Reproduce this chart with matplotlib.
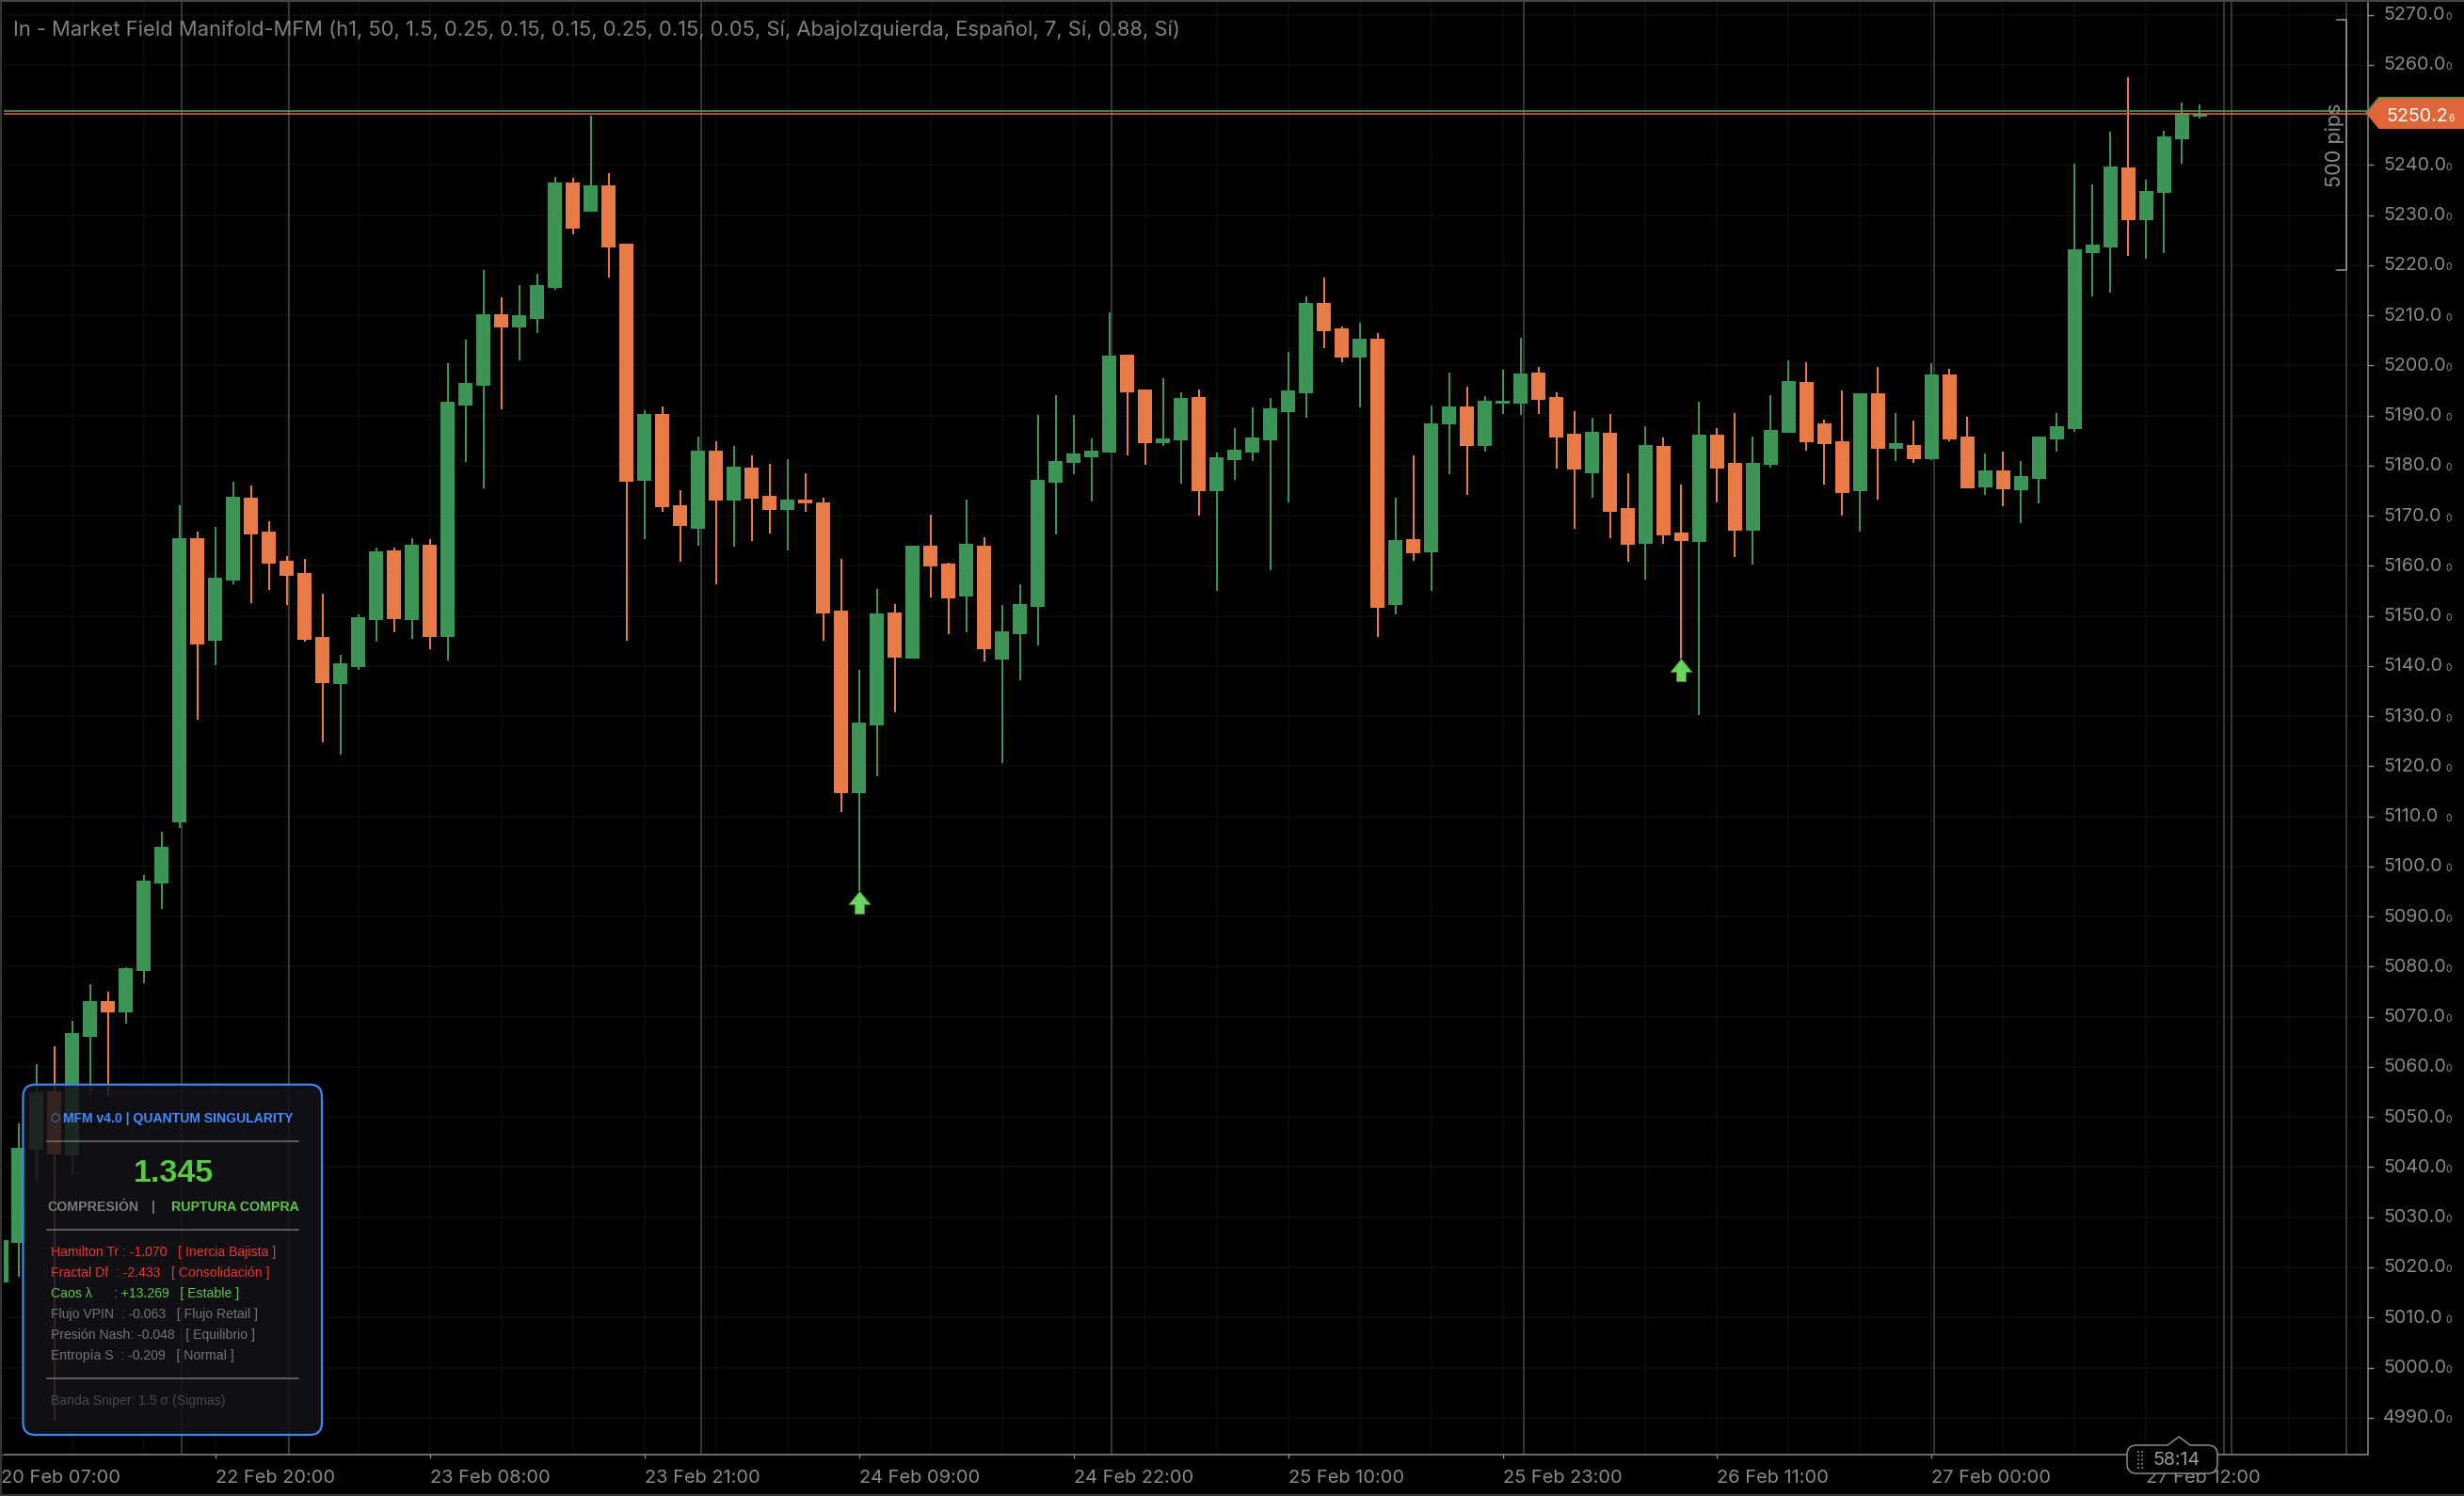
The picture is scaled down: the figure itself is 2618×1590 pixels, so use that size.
import numpy as np
import matplotlib
matplotlib.use('Agg')
import matplotlib.pyplot as plt
from matplotlib.lines import Line2D
from matplotlib.patches import FancyBboxPatch, PathPatch, Polygon, Rectangle
from matplotlib.path import Path
from matplotlib.transforms import Affine2D

W, H = 2618, 1590

opens = [5017.0, 5024.9, 5043.5, 5055.1, 5042.4, 5066.1, 5073.1, 5070.8, 5079.2, 5096.7,
         5108.8, 5165.5, 5145.1, 5157.1, 5173.6, 5166.9, 5161.0, 5158.6, 5145.8, 5136.4,
         5139.8, 5149.2, 5163.1, 5149.2, 5164.2, 5145.8, 5192.0, 5196.0, 5210.2, 5207.6,
         5209.3, 5215.5, 5236.5, 5230.7, 5235.9, 5224.3, 5177.0, 5190.3, 5172.1, 5167.4,
         5183.0, 5173.0, 5179.6, 5174.0, 5171.2, 5173.2, 5172.7, 5151.1, 5114.6, 5128.2,
         5150.7, 5141.5, 5164.0, 5160.5, 5153.9, 5164.0, 5141.3, 5146.4, 5151.8, 5176.6,
         5180.6, 5181.7, 5182.6, 5202.1, 5195.2, 5184.5, 5185.1, 5193.7, 5174.9, 5181.1,
         5182.6, 5185.1, 5190.7, 5194.4, 5212.5, 5207.4, 5201.6, 5205.3, 5152.2, 5165.3,
         5162.7, 5188.2, 5191.8, 5183.9, 5192.4, 5192.4, 5198.6, 5193.7, 5186.4, 5178.5,
         5186.6, 5171.5, 5164.4, 5183.9, 5166.7, 5164.8, 5186.2, 5180.6, 5167.0, 5180.2,
         5186.6, 5196.7, 5188.5, 5184.9, 5174.9, 5194.4, 5183.4, 5184.1, 5181.3, 5198.2,
         5185.8, 5175.7, 5179.1, 5175.1, 5177.4, 5185.2, 5187.3, 5222.4, 5223.6, 5239.5,
         5229.0, 5234.4, 5245.2, 5249.6]
closes = [5025.4, 5043.8, 5054.9, 5042.6, 5066.7, 5073.1, 5070.8, 5079.7, 5097.2, 5103.9,
          5165.5, 5144.3, 5157.6, 5173.8, 5166.3, 5160.5, 5158.0, 5145.2, 5136.6, 5140.6,
          5149.8, 5162.9, 5149.4, 5164.2, 5145.8, 5192.8, 5196.5, 5210.2, 5207.6, 5210.0,
          5216.0, 5236.5, 5227.3, 5235.9, 5223.6, 5176.8, 5190.3, 5171.7, 5168.0, 5183.0,
          5173.0, 5179.8, 5173.4, 5171.2, 5173.2, 5172.5, 5150.5, 5114.6, 5128.7, 5150.5,
          5141.7, 5164.0, 5159.9, 5153.5, 5164.4, 5143.4, 5146.9, 5152.4, 5177.2, 5180.9,
          5182.4, 5183.0, 5202.0, 5194.6, 5184.5, 5185.4, 5193.5, 5174.9, 5181.7, 5183.2,
          5185.6, 5191.4, 5195.0, 5212.5, 5206.8, 5201.6, 5205.3, 5151.6, 5165.2, 5162.5,
          5188.5, 5191.8, 5183.9, 5193.0, 5193.0, 5198.4, 5193.1, 5185.6, 5179.2, 5186.8,
          5170.8, 5164.2, 5184.1, 5166.1, 5165.0, 5186.2, 5179.4, 5167.0, 5180.6, 5187.1,
          5196.9, 5184.7, 5184.3, 5174.5, 5194.4, 5183.4, 5184.5, 5181.3, 5198.2, 5185.2,
          5175.5, 5179.1, 5175.3, 5177.9, 5185.8, 5187.9, 5223.2, 5224.1, 5239.7, 5229.0,
          5234.8, 5245.7, 5250.4, 5250.2]
highs = [5025.4, 5048.7, 5060.6, 5064.1, 5069.2, 5076.5, 5075.0, 5079.9, 5098.3, 5106.9,
         5172.1, 5166.9, 5167.8, 5176.8, 5176.0, 5168.9, 5162.0, 5161.4, 5154.5, 5142.2,
         5150.3, 5163.6, 5163.6, 5165.5, 5165.3, 5200.5, 5205.2, 5219.1, 5213.6, 5216.0,
         5218.3, 5237.6, 5237.5, 5249.8, 5238.4, 5224.3, 5191.1, 5191.8, 5175.1, 5185.8,
         5184.9, 5183.9, 5182.1, 5180.4, 5181.3, 5178.5, 5173.6, 5161.4, 5139.2, 5155.4,
         5152.4, 5164.0, 5170.2, 5160.6, 5173.2, 5165.7, 5152.2, 5156.3, 5190.1, 5194.1,
         5190.1, 5185.4, 5210.6, 5202.1, 5195.2, 5197.5, 5194.6, 5195.2, 5182.6, 5187.5,
         5191.6, 5193.5, 5202.7, 5213.8, 5217.5, 5207.8, 5208.5, 5206.5, 5173.6, 5182.1,
         5192.0, 5198.6, 5195.8, 5193.9, 5199.2, 5205.5, 5199.7, 5194.6, 5190.9, 5189.6,
         5190.3, 5178.5, 5187.9, 5185.6, 5176.2, 5192.8, 5187.5, 5190.5, 5185.8, 5194.1,
         5201.0, 5200.6, 5189.2, 5195.0, 5194.4, 5199.7, 5190.5, 5189.0, 5200.5, 5199.3,
         5189.8, 5182.4, 5182.8, 5180.9, 5185.8, 5190.5, 5240.3, 5236.1, 5246.7, 5257.6,
         5237.1, 5246.8, 5252.5, 5252.1]
lows = [5017.0, 5018.2, 5037.0, 4989.4, 5038.6, 5054.6, 5054.2, 5068.7, 5076.7, 5091.6,
        5107.7, 5129.3, 5140.2, 5156.3, 5152.6, 5155.2, 5152.2, 5144.9, 5124.8, 5122.3,
        5139.2, 5144.9, 5146.8, 5145.4, 5143.4, 5141.1, 5180.7, 5175.5, 5191.3, 5201.0,
        5206.5, 5215.1, 5226.2, 5230.7, 5217.5, 5145.1, 5165.4, 5170.8, 5160.8, 5164.0,
        5156.3, 5163.8, 5165.0, 5166.5, 5163.1, 5170.8, 5145.1, 5110.9, 5095.1, 5118.0,
        5130.8, 5141.5, 5153.7, 5146.4, 5146.8, 5140.9, 5120.7, 5137.2, 5144.1, 5166.3,
        5178.3, 5172.9, 5182.6, 5182.1, 5180.2, 5183.9, 5176.4, 5170.0, 5155.0, 5177.2,
        5180.9, 5159.2, 5172.7, 5189.6, 5203.5, 5200.6, 5191.6, 5145.8, 5150.3, 5161.0,
        5155.0, 5178.3, 5174.2, 5182.8, 5190.3, 5190.1, 5190.3, 5179.4, 5167.4, 5173.6,
        5165.5, 5160.8, 5157.3, 5164.4, 5141.5, 5130.2, 5172.7, 5161.8, 5160.3, 5179.6,
        5186.6, 5183.0, 5176.2, 5170.0, 5166.9, 5173.2, 5180.9, 5180.6, 5181.1, 5184.9,
        5175.5, 5174.2, 5171.9, 5168.5, 5172.5, 5182.8, 5186.8, 5213.8, 5214.5, 5221.9,
        5221.3, 5222.4, 5240.3, 5249.3]

price_ticks = list(range(4990, 5280, 10))
time_ticks = [0, 12, 24, 36, 48, 60, 72, 84, 96, 108, 120]
time_labels = ['20 Feb 07:00', '22 Feb 20:00', '23 Feb 08:00', '23 Feb 21:00',
               '24 Feb 09:00', '24 Feb 22:00', '25 Feb 10:00', '25 Feb 23:00',
               '26 Feb 11:00', '27 Feb 00:00', '27 Feb 12:00']
separators = [10.11, 16.09, 39.17, 62.12, 85.18, 108.13, 124.35, 124.77, 131.19]
signal_bars = [48, 94]
signal_prices = [5092.9, 5139.2]
bid_price = 5250.2
ask_price = 5250.72

GREEN = '#3c9457'
ORANGE = '#e87a45'
GREY = '#8a8a8a'
SANS = ['Inter', 'DejaVu Sans']
PANEL_FONT = ['Liberation Sans', 'DejaVu Sans', 'Noto Sans CJK SC']

fig = plt.figure(figsize=(W / 100, H / 100), dpi=100, facecolor='black')
ax = fig.add_axes([0, (H - 1546) / H, 2515.5 / W, 1544 / H], facecolor='black')
ax.set_xlim(-0.0526, 132.38)
ax.set_ylim(4982.63, 5272.57)

x = np.arange(len(opens))
o = np.array(opens)
c = np.array(closes)
cols = [GREEN if b >= a else ORANGE for a, b in zip(o, c)]
ax.vlines(x, lows, highs, colors=cols, linewidth=1.44, zorder=2)
ax.bar(x, np.abs(c - o), bottom=np.minimum(o, c), width=0.79, color=cols, linewidth=0, zorder=2.1)

for s in separators:
    ax.axvline(s, color='#353535', linewidth=1.44, zorder=1)

ax.axhline(ask_price, color='#4a9a50', linewidth=1.2, zorder=3.1)
ax.axhline(bid_price, color='#d9693a', linewidth=1.1, zorder=3)

# buy arrows
arrow = Path([(0, 12), (11.5, -2), (5, -2), (5, -12), (-5, -12), (-5, -2), (-11.5, -2), (0, 12)], closed=True)
ax.plot(signal_bars, signal_prices, linestyle='none', marker=arrow, markersize=17.3,
        markerfacecolor='#6ad45c', markeredgecolor='#3f8a3a', markeredgewidth=0.6, zorder=4)

ax.set_xticks(time_ticks)
ax.set_xticklabels(time_labels, ha='left', fontfamily=SANS, fontsize=14.4, color=GREY)
ax.set_xticks(np.arange(0, 133, 4), minor=True)
ax.set_yticks(price_ticks)
ax.set_yticklabels(['%.1f' % p for p in price_ticks], fontfamily=SANS, fontsize=14.2, color=GREY)
ax.yaxis.tick_right()
ax.tick_params(axis='x', which='major', length=3, width=1, color=GREY, pad=8.2)
ax.tick_params(axis='x', which='minor', length=0)
ax.tick_params(axis='y', length=4.3, width=1, color=GREY, pad=7.6)
for lab in ax.get_yticklabels():
    lab.set_transform(lab.get_transform() + Affine2D().translate(0, 1.5))
ax.grid(which='both', color='#0c0c0c', linewidth=1.3)
ax.set_axisbelow(True)
for side in ['top', 'left']:
    ax.spines[side].set_visible(False)
for side in ['bottom', 'right']:
    ax.spines[side].set_color(GREY)
    ax.spines[side].set_linewidth(1.1)

# small trailing digit of the price scale
for p in price_ticks:
    ax.annotate('0', xy=(1, p), xycoords=ax.get_yaxis_transform(), xytext=(82.5, -5.5),
                textcoords='offset pixels', va='baseline', ha='left', fontsize=7.5,
                fontfamily=SANS, color=GREY, annotation_clip=False)

# everything below is placed in picture pixels, y going down
px = Affine2D().scale(1, -1).translate(0, H)


def put_text(xp, yp, s, **kw):
    fig.text(xp, yp, s, transform=px, **kw)


def put_line(xs, ys, color, lw, **kw):
    fig.add_artist(Line2D(xs, ys, transform=px, color=color, linewidth=lw, zorder=6, **kw))


def put_rect(x0, y0, w, h, color, z=5):
    fig.add_artist(Rectangle((x0, y0), w, h, transform=px, facecolor=color, edgecolor='none', zorder=z))


put_rect(0, 0, 4, 1546, 'black')
put_rect(0, 0, 2, H, '#353535', 5.1)
put_rect(0, 0, W, 2, '#454545', 5.1)
put_rect(0, H - 2, W, 2, '#353535', 5.1)

put_text(14, 32, 'In - Market Field Manifold-MFM (h1, 50, 1.5, 0.25, 0.15, 0.15, 0.25, 0.15, 0.05, Sí, '
         'AbajoIzquierda, Español, 7, Sí, 0.88, Sí)', color='#808080', fontsize=15.8,
         fontfamily=SANS, va='center', ha='left', zorder=7)

# price tag
tag = Polygon([(2514, 120.5), (2527.5, 104), (W, 104), (W, 137), (2527.5, 137)], closed=True, transform=px,
              facecolor='#e0663a', edgecolor='none', zorder=6)
fig.add_artist(tag)
put_line([2514, 2527.5, W], [119.5, 103.5, 103.5], '#3f8a4e', 1.0)
put_text(2535, 129, '5250.2', color='white', fontsize=14.2, fontfamily=SANS, va='baseline', ha='left', zorder=7)
put_text(2601.5, 129, '6', color='white', fontsize=7.5, fontfamily=SANS, va='baseline', ha='left', zorder=7)

# 500 pips bracket
put_line([2483, 2492.7, 2492.7, 2483], [20.5, 20.5, 286.5, 286.5], '#9a9a9a', 1.1)
put_text(2481, 154, '500 pips', color=GREY, fontsize=15.6, fontfamily=SANS, rotation=90,
         va='center', ha='center', zorder=7)

# info panel
panel = FancyBboxPatch((24.5, 1152.7), 317.5, 372.3, boxstyle='round,pad=0,rounding_size=13', transform=px,
                       facecolor=(20 / 255, 20 / 255, 24 / 255, 0.85), edgecolor='#3f86f0', linewidth=1.6, zorder=5.5)
fig.add_artist(panel)
for yp in [1213, 1306.7, 1464.7]:
    put_line([50, 316.7], [yp, yp], '#707070', 1.1)


def panel_text(xp, yp, s, color, size, weight='normal', ha='left'):
    put_text(xp, yp, s, color=color, fontsize=size, fontweight=weight, fontfamily=PANEL_FONT,
             va='center', ha=ha, zorder=7)


BLUE = '#3f8cff'
LIME = '#5ac845'
RED = '#f0352b'
DIM = '#747474'
panel_text(53.5, 1190, '⬡', BLUE, 8.5)
panel_text(67.3, 1189, 'MFM v4.0 | QUANTUM SINGULARITY', BLUE, 10.1, 'bold')
panel_text(184, 1247, '1.345', LIME, 24.5, 'bold', 'center')
panel_text(50, 1283, 'COMPRESIÓN', '#7c7c7c', 10.2, 'bold')
panel_text(163, 1283, '|', '#7c7c7c', 10.2, 'bold', 'center')
panel_text(182, 1283, 'RUPTURA COMPRA', LIME, 10.2, 'bold')
panel_text(54.3, 1331, 'Hamilton Tr : -1.070   [ Inercia Bajista ]', RED, 10.05)
panel_text(54.3, 1353, 'Fractal Df  : -2.433   [ Consolidación ]', RED, 10.05)
panel_text(54.3, 1375, 'Caos λ      : +13.269   [ Estable ]', LIME, 10.05)
panel_text(54.3, 1397, 'Flujo VPIN  : -0.063   [ Flujo Retail ]', DIM, 10.05)
panel_text(54.3, 1419, 'Presión Nash: -0.048   [ Equilibrio ]', DIM, 10.05)
panel_text(54.3, 1441, 'Entropía S  : -0.209   [ Normal ]', DIM, 10.05)
panel_text(54.3, 1489, 'Banda Sniper: 1.5 σ (Sigmas)', '#484848', 10.05)

# countdown bubble
L, R, T, B, r = 2260, 2356, 1536, 1566, 10
verts = [(L + r, T), (2303, T), (2315, 1527), (2327, T), (R - r, T), (R, T), (R, T + r), (R, B - r), (R, B), (R - r, B),
         (L + r, B), (L, B), (L, B - r), (L, T + r), (L, T), (L + r, T)]
codes = [Path.MOVETO, Path.LINETO, Path.LINETO, Path.LINETO, Path.LINETO, Path.CURVE3, Path.CURVE3, Path.LINETO,
         Path.CURVE3, Path.CURVE3, Path.LINETO, Path.CURVE3, Path.CURVE3, Path.LINETO, Path.CURVE3, Path.CURVE3]
fig.add_artist(PathPatch(Path(verts, codes), transform=px, facecolor='black', edgecolor='#8a8a8a', linewidth=1.1, zorder=6))
for xp in [2271.5, 2275.5]:
    put_line([xp, xp], [1542, 1561], '#9a9a9a', 1.1, linestyle=(0, (1.2, 1.6)))
put_text(2287, 1552, '58:14', color='#9a9a9a', fontsize=14.2, fontfamily=SANS, va='center', ha='left', zorder=7)

fig.savefig('out.png', dpi=100, facecolor='black')
